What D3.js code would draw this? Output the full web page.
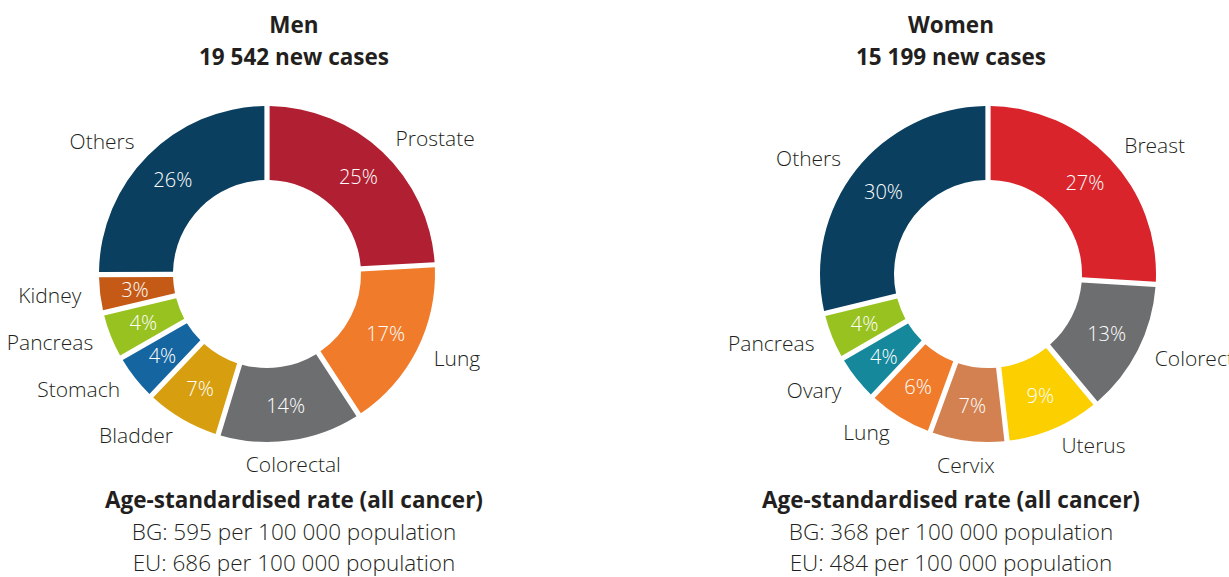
<!DOCTYPE html>
<html>
<head>
<meta charset="utf-8">
<script src="https://cdn.jsdelivr.net/npm/d3@7"></script>
<style>
  body { margin: 0; background: #fff; }
  text { font-family: "Open Sans", "Noto Sans", sans-serif; }
</style>
</head>
<body>
<div id="chart"></div>
<script>
// men
const menSites = ["Prostate", "Lung", "Colorectal", "Bladder", "Stomach", "Pancreas", "Kidney", "Others"];
const menShares = [25, 17, 14, 7, 4, 4, 3, 26];
const menColors = ["#b01f32", "#ef7b2b", "#6d6e70", "#d79f0f", "#1565a0", "#98c21f", "#c55a17", "#0b3f5f"];
const menTitle = ["Men", "19 542 new cases"];
const menRates = ["BG: 595 per 100 000 population", "EU: 686 per 100 000 population"];

// women
const womenSites = ["Breast", "Colorectal", "Uterus", "Cervix", "Lung", "Ovary", "Pancreas", "Others"];
const womenShares = [27, 13, 9, 7, 6, 4, 4, 30];
const womenColors = ["#d9242b", "#6d6e70", "#fccf00", "#d38150", "#ef7b2b", "#15889c", "#98c21f", "#0b3f5f"];
const womenTitle = ["Women", "15 199 new cases"];
const womenRates = ["BG: 368 per 100 000 population", "EU: 484 per 100 000 population"];

const rateHeading = "Age-standardised rate (all cancer)";

const width = 1229, height = 577;
const outerR = 168, innerR = 94, labelR = 187;

let svg = d3.select("#chart").append("svg")
    .attr("width", width)
    .attr("height", height);

function drawDonut(sites, shares, colors, title, rates, cx, cy, textX) {
    let g = svg.append("g").attr("transform", "translate(" + cx + "," + cy + ")");

    let pie = d3.pie().sort(null).value(d => d.v)
        .padAngle(0.055);
    let arc = d3.arc().innerRadius(innerR).outerRadius(outerR).padRadius(95);
    let mid = d3.arc().innerRadius((innerR + outerR) / 2 + 2).outerRadius((innerR + outerR) / 2 + 2);

    let data = sites.map((s, i) => ({name: s, v: shares[i], color: colors[i]}));
    let arcs = pie(data);

    g.selectAll("path.slice").data(arcs).enter().append("path")
        .attr("class", "slice")
        .attr("d", arc)
        .attr("fill", d => d.data.color);

    g.selectAll("text.pct").data(arcs).enter().append("text")
        .attr("class", "pct")
        .attr("transform", d => "translate(" + mid.centroid(d) + ")")
        .attr("text-anchor", "middle")
        .attr("dy", "0.35em")
        .attr("fill", "#fff")
        .attr("font-size", 20)
        .attr("font-weight", 300)
        .text(d => d.data.v + "%");

    g.selectAll("text.site").data(arcs).enter().append("text")
        .attr("class", "site")
        .attr("x", d => {
            let a = (d.startAngle + d.endAngle) / 2;
            return labelR * Math.sin(a);
        })
        .attr("y", d => {
            let a = (d.startAngle + d.endAngle) / 2;
            let y = -labelR * Math.cos(a);
            if (Math.abs(Math.sin(a)) < 0.2) y += 6;
            return y;
        })
        .attr("dy", "0.35em")
        .attr("text-anchor", d => {
            let s = Math.sin((d.startAngle + d.endAngle) / 2);
            if (Math.abs(s) < 0.2) return "middle";
            return s > 0 ? "start" : "end";
        })
        .attr("fill", "#231f20")
        .attr("font-size", 21)
        .attr("font-weight", 300)
        .text(d => d.data.name);

    // titles
    svg.append("text")
        .attr("x", textX).attr("y", 33)
        .attr("text-anchor", "middle")
        .attr("font-size", 22.5).attr("font-weight", 700).attr("fill", "#231f20")
        .text(title[0]);
    svg.append("text")
        .attr("x", textX).attr("y", 65)
        .attr("text-anchor", "middle")
        .attr("font-size", 22.5).attr("font-weight", 700).attr("fill", "#231f20")
        .text(title[1]);

    // rates below
    svg.append("text")
        .attr("x", textX).attr("y", 508)
        .attr("text-anchor", "middle")
        .attr("font-size", 22.5).attr("font-weight", 700).attr("fill", "#231f20")
        .text(rateHeading);
    rates.forEach((r, i) => {
        svg.append("text")
            .attr("x", textX).attr("y", 540 + i * 31)
            .attr("text-anchor", "middle")
            .attr("font-size", 22.5).attr("font-weight", 300).attr("fill", "#231f20")
            .text(r);
    });
}

drawDonut(menSites, menShares, menColors, menTitle, menRates, 267, 274, 294);
drawDonut(womenSites, womenShares, womenColors, womenTitle, womenRates, 988, 274, 951);
</script>
</body>
</html>
